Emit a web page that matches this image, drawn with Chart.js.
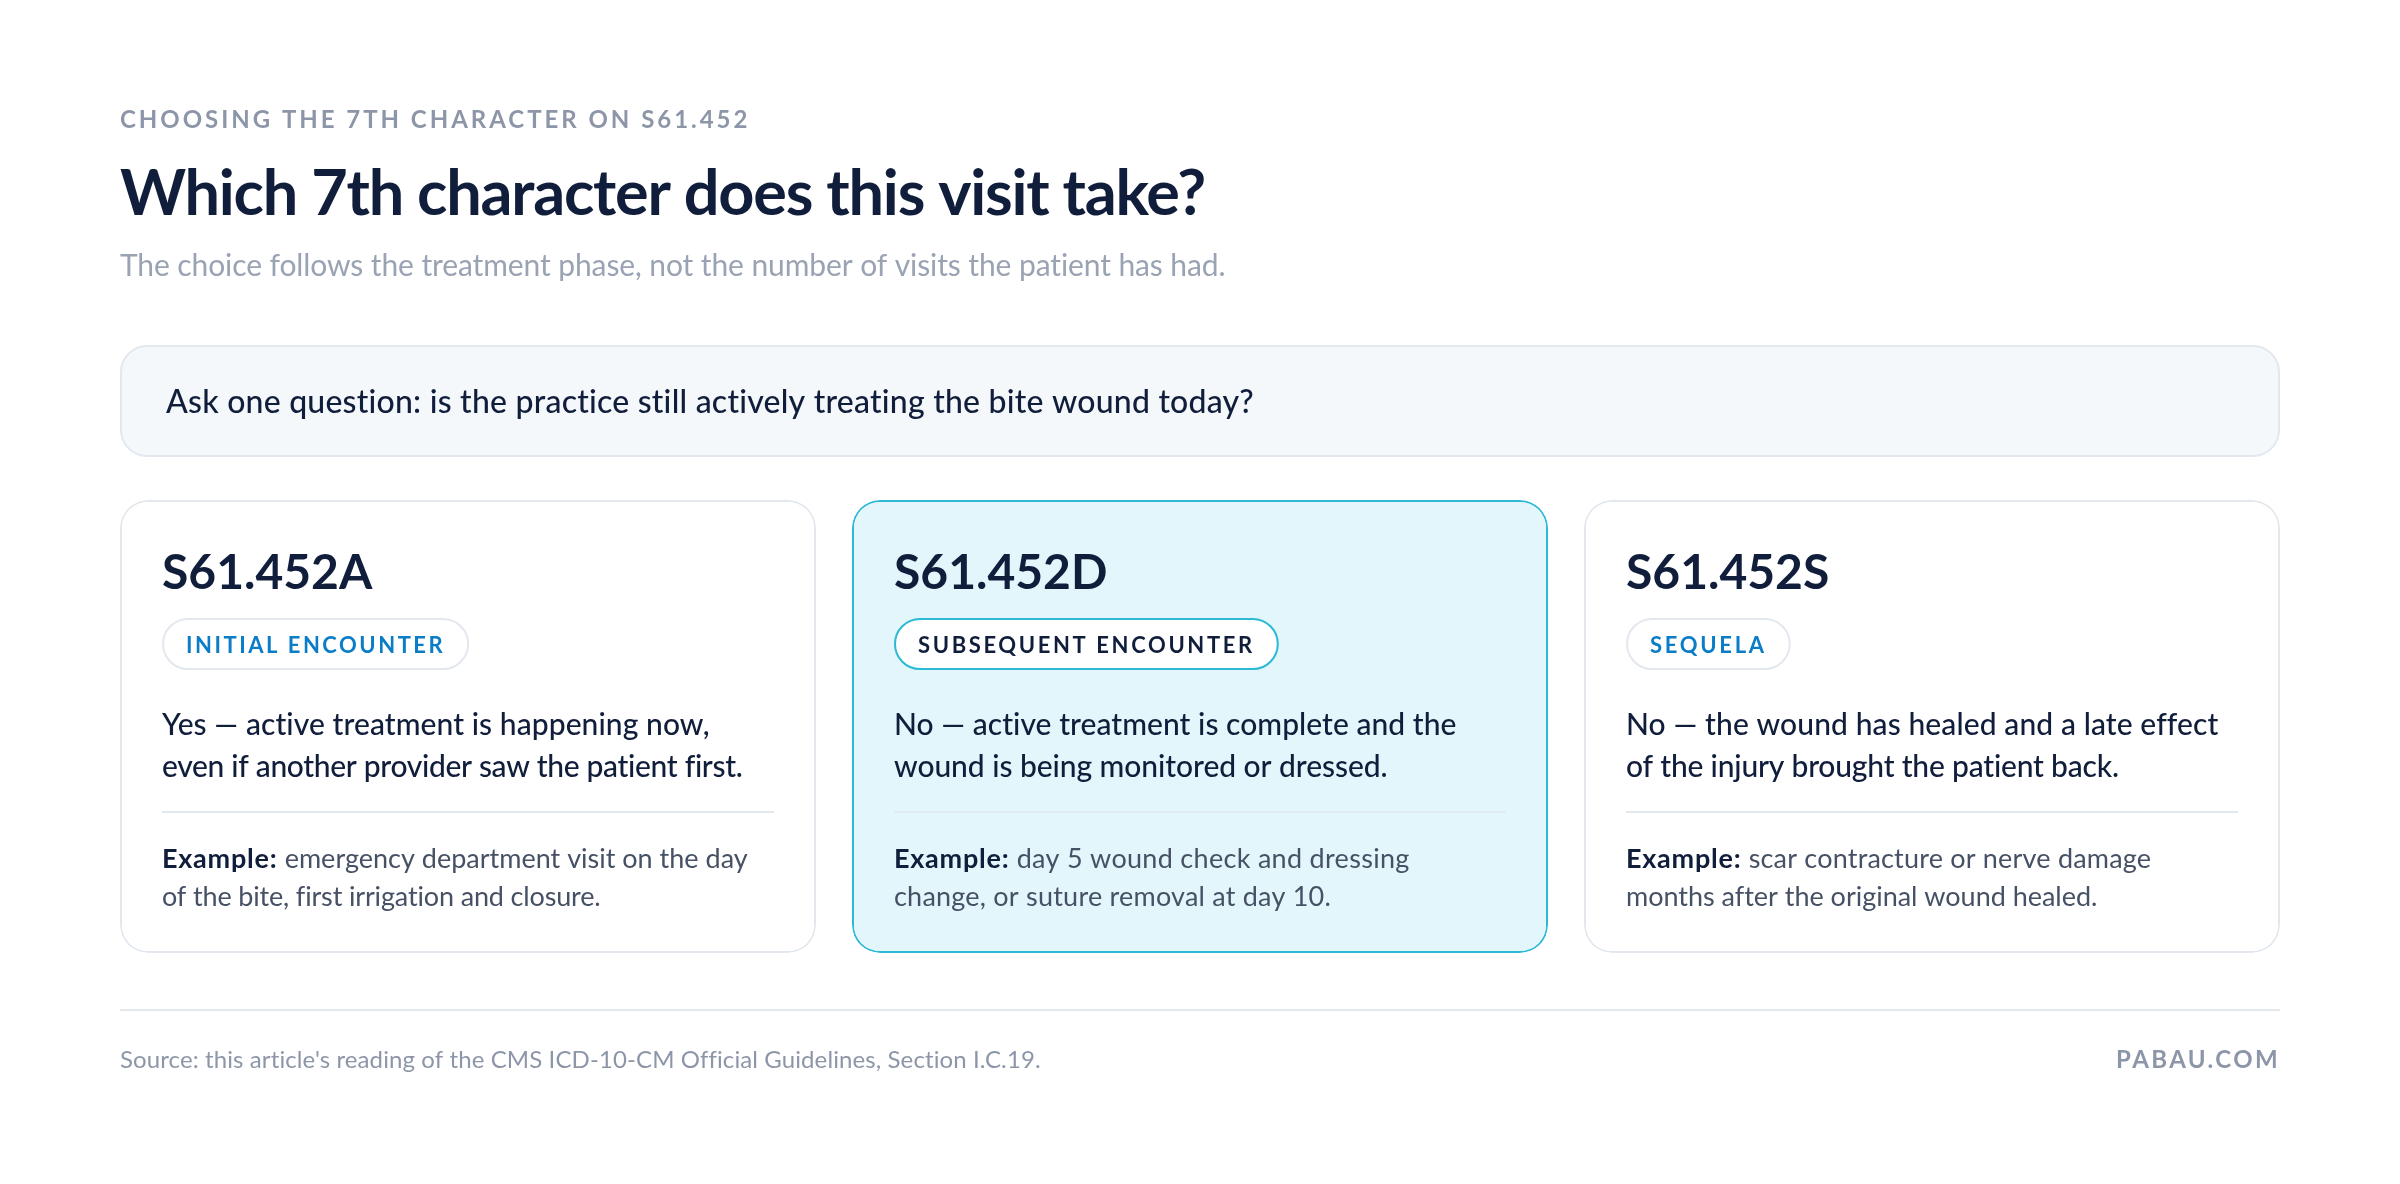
<!DOCTYPE html>
<html>
<head>
<meta charset="utf-8">
<style>
    html, body { margin: 0; padding: 0; background: #ffffff; }
    canvas { display: block; }
</style>
<script src="https://cdn.jsdelivr.net/npm/chart.js@4/dist/chart.umd.min.js"></script>
</head>
<body>
<canvas id="myChart" width="2400" height="1184"></canvas>
<script>
const kicker = 'CHOOSING THE 7TH CHARACTER ON S61.452'
const title = 'Which 7th character does this visit take?'
const subtitle = 'The choice follows the treatment phase, not the number of visits the patient has had.'
const question = 'Ask one question: is the practice still actively treating the bite wound today?'
const source = "Source: this article's reading of the CMS ICD-10-CM Official Guidelines, Section I.C.19."
const brand = 'PABAU.COM'

// one card per 7th character, the middle one is highlighted
const codes = ['S61.452A', 'S61.452D', 'S61.452S']
const phases = ['INITIAL ENCOUNTER', 'SUBSEQUENT ENCOUNTER', 'SEQUELA']
const answers = [
    ['Yes — active treatment is happening now,', 'even if another provider saw the patient first.'],
    ['No — active treatment is complete and the', 'wound is being monitored or dressed.'],
    ['No — the wound has healed and a late effect', 'of the injury brought the patient back.'],
]
const exampleLead = 'Example:'
const examples = [
    ['emergency department visit on the day', 'of the bite, first irrigation and closure.'],
    ['day 5 wound check and dressing', 'change, or suture removal at day 10.'],
    ['scar contracture or nerve damage', 'months after the original wound healed.'],
]
const cardSpans = [[0, 1], [0, 1], [0, 1]]
const highlighted = 1

// Lato runs a little off the original face, so each line gets its own tracking
const answerTracking = [[0.07, -0.33], [0.04, -0.06], [0.1, -0.2]]
const exampleTracking = [[0, -0.15], [0.3, 0.22], [0.19, -0.02]]
const pillTracking = [2.5, 2.62, 2.7]

const family = 'Lato, "Noto Sans", sans-serif'
const ink = '#111e3b'
const grey = '#8d96a8'
const line = '#e3e8ef'
const accent = '#2bb9d6'
const accentFill = '#e2f6fb'
const blue = '#0b7dc6'

function put(ctx, str, x, y, font, color, spacing, align) {
    ctx.font = font + ' ' + family
    ctx.fillStyle = color
    ctx.letterSpacing = (spacing || 0) + 'px'
    ctx.textAlign = align || 'left'
    ctx.textBaseline = 'alphabetic'
    ctx.fillText(str, x, y)
    return ctx.measureText(str).width
}

function box(ctx, x, y, w, h, r, fill, stroke) {
    ctx.beginPath()
    ctx.roundRect(x + 1, y + 1, w - 2, h - 2, r)
    ctx.fillStyle = fill
    ctx.fill()
    ctx.lineWidth = 2
    ctx.strokeStyle = stroke
    ctx.stroke()
}

const pageText = {
    id: 'pageText',
    afterDatasetsDraw(chart) {
        const ctx = chart.ctx
        ctx.save()

        put(ctx, kicker, 120, 128, '700 24px', grey, 2.97)
        put(ctx, title, 120, 215, '700 63px', ink, -1.22)
        put(ctx, subtitle, 120, 276, '400 30px', '#9aa3b3', -0.1)

        box(ctx, 120, 345, 2160, 112, 26, '#f4f8fb', line)
        put(ctx, question, 166, 413, '500 32px', ink, 0.22)

        chart.getDatasetMeta(0).data.forEach((bar, i) => {
            const left = bar.x - bar.width / 2 + 42
            const on = i == highlighted

            put(ctx, codes[i], left, 589, '700 48px', ink, 0)

            ctx.font = '700 22px ' + family
            ctx.letterSpacing = pillTracking[i] + 'px'
            const pillWidth = ctx.measureText(phases[i]).width + 48
            box(ctx, left, 618, pillWidth, 52, 26, '#ffffff', on ? accent : line)
            put(ctx, phases[i], left + 24, 653, '700 22px', on ? ink : blue, pillTracking[i])

            answers[i].forEach((t, n) => {
                put(ctx, t, left, 735 + n * 42, '500 30px', ink, answerTracking[i][n])
            })

            ctx.fillStyle = on ? '#dfecf3' : line
            ctx.fillRect(left, 811, bar.width - 84, 2)

            const lead = put(ctx, exampleLead + ' ', left, 868, '700 27px', ink, 0.75)
            put(ctx, examples[i][0], left + lead, 868, '400 27px', '#465165', exampleTracking[i][0])
            put(ctx, examples[i][1], left, 906, '400 27px', '#465165', exampleTracking[i][1])
        })

        ctx.fillStyle = line
        ctx.fillRect(120, 1009, 2160, 2)
        put(ctx, source, 120, 1068, '400 24px', grey, 0.1)
        put(ctx, brand, 2280, 1068, '700 24px', grey, 2.4, 'right')

        ctx.restore()
    }
}

const config = {
    type: 'bar',
    data: {
        labels: codes,
        datasets: [{
            data: cardSpans,
            backgroundColor: codes.map((c, i) => i == highlighted ? accentFill : '#ffffff'),
            borderColor: codes.map((c, i) => i == highlighted ? accent : line),
            borderWidth: 2,
            borderRadius: 28,
            borderSkipped: false,
            categoryPercentage: 1,
            barPercentage: 696 / 732,
        }],
    },
    options: {
        responsive: false,
        animation: false,
        devicePixelRatio: 1,
        layout: { padding: { left: 102, right: 102, top: 500, bottom: 231 } },
        plugins: { legend: { display: false }, tooltip: { enabled: false } },
        scales: {
            x: { display: false },
            y: { display: false, min: 0, max: 1 },
        },
    },
    plugins: [pageText],
}

const myChart = new Chart(document.getElementById('myChart'), config)
</script>
</body>
</html>
